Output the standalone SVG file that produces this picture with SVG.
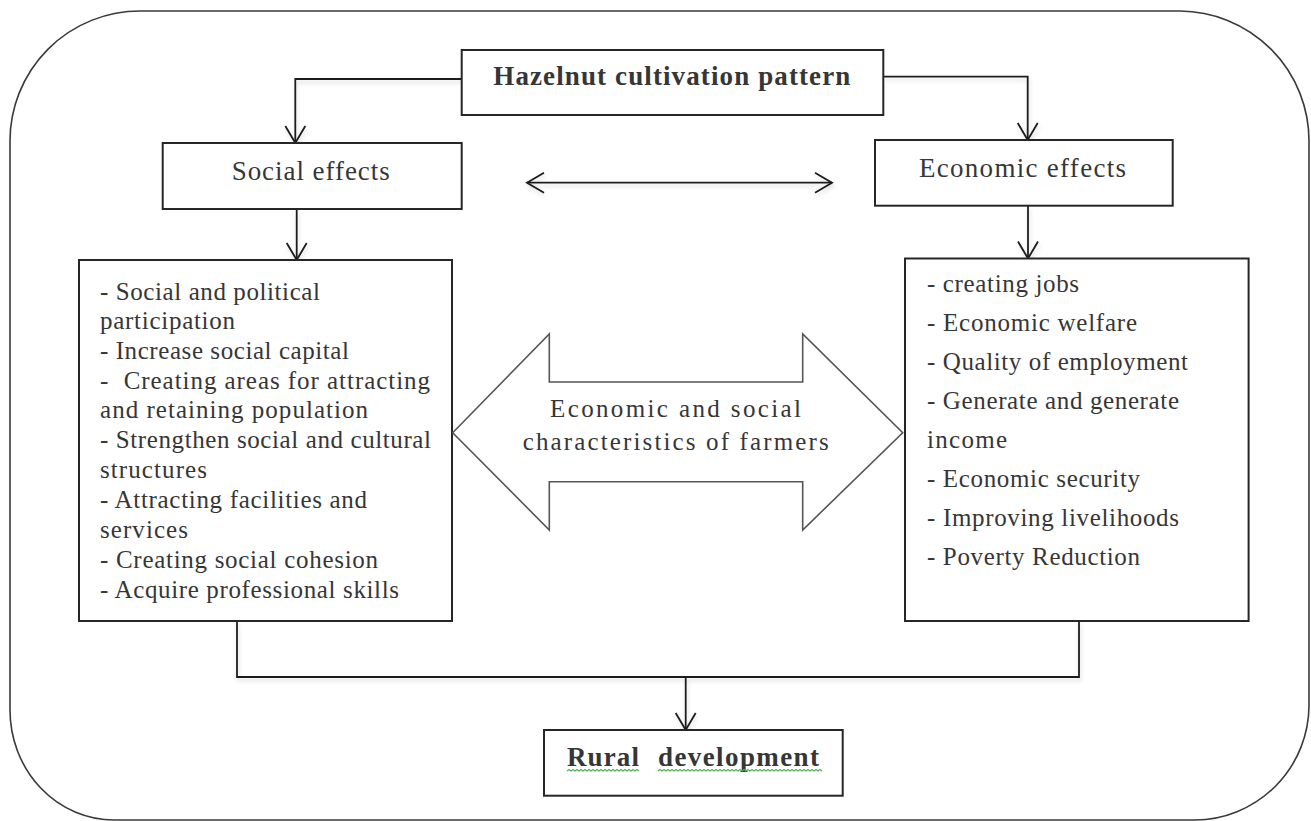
<svg xmlns="http://www.w3.org/2000/svg" width="1311" height="821" viewBox="0 0 1311 821">
  <style>
    .box { fill: #ffffff; stroke: #262626; stroke-width: 2; }
    .frame { fill: none; stroke: #3a3a3a; stroke-width: 1.6; }
    .conn { fill: none; stroke: #1e1e1e; stroke-width: 1.8; }
    .t { font-family: "Liberation Serif", "Times New Roman", serif; fill: #363636; }
    .h { font-size: 27px; }
    .hb { font-size: 27px; font-weight: bold; }
    .li { font-size: 25px; }
    .big { fill: #ffffff; stroke: #555555; stroke-width: 1.6; }
    .squig { fill: none; stroke: #4caf50; stroke-width: 1.1; }
  </style>
  <defs>
    <marker id="vhead" viewBox="-20 -12 22 24" refX="0" refY="0" markerWidth="22" markerHeight="24" markerUnits="userSpaceOnUse" orient="auto-start-reverse">
      <path d="M-17,-10 L0,0 L-17,10" fill="none" stroke="#1e1e1e" stroke-width="1.8"/>
    </marker>
    <filter id="soft" x="-5%" y="-20%" width="110%" height="160%">
      <feDropShadow dx="1" dy="3" stdDeviation="2" flood-color="#000000" flood-opacity="0.15"/>
    </filter>
  </defs>

  <rect x="0" y="0" width="1311" height="821" fill="#ffffff"/>

  <!-- outer rounded frame -->
  <path class="frame" d="M140,11 H1180 A130,130 0 0 1 1309,141 V705 A115,115 0 0 1 1195,820 H114 A104,110 0 0 1 10,710 V141 A130,130 0 0 1 140,11 Z"/>

  <!-- connectors -->
  <g id="connectors" filter="url(#soft)">
    <polyline class="conn" points="461.7,79 295.3,79 295.3,143" marker-end="url(#vhead)"/>
    <polyline class="conn" points="883.3,76.7 1027.7,76.7 1027.7,140" marker-end="url(#vhead)"/>
    <line class="conn" x1="296.7" y1="209" x2="296.7" y2="260" marker-end="url(#vhead)"/>
    <line class="conn" x1="1028" y1="205.7" x2="1028" y2="258.5" marker-end="url(#vhead)"/>
    <line class="conn" x1="527" y1="182.7" x2="832" y2="182.7" marker-start="url(#vhead)" marker-end="url(#vhead)"/>
    <polyline class="conn" points="237,621 237,677 1079,677 1079,621"/>
    <line class="conn" x1="685.7" y1="677" x2="685.7" y2="730" marker-end="url(#vhead)"/>
  </g>

  <!-- title -->
  <g id="node-title">
    <rect class="box" x="461.7" y="50" width="421.6" height="65"/>
    <text class="t hb" x="493.3" y="85" textLength="357" lengthAdjust="spacing">Hazelnut cultivation pattern</text>
  </g>

  <g id="node-social">
    <rect class="box" x="162.7" y="143" width="299" height="66"/>
    <text class="t h" x="231.7" y="180" textLength="158" lengthAdjust="spacing">Social effects</text>
  </g>

  <g id="node-economic">
    <rect class="box" x="875" y="140" width="297.7" height="65.7"/>
    <text class="t h" x="919" y="176.7" textLength="207" lengthAdjust="spacing">Economic effects</text>
  </g>

  <g id="node-social-list">
    <rect class="box" x="79" y="260" width="373" height="361"/>
    <text class="t li" x="100" y="300" textLength="220" lengthAdjust="spacing">- Social and political</text>
    <text class="t li" x="100" y="329" textLength="135" lengthAdjust="spacing">participation</text>
    <text class="t li" x="100" y="358.5" textLength="249" lengthAdjust="spacing">- Increase social capital</text>
    <text class="t li" x="100" y="388.5" textLength="330" lengthAdjust="spacing" xml:space="preserve">-  Creating areas for attracting</text>
    <text class="t li" x="100" y="418.3" textLength="268" lengthAdjust="spacing">and retaining population</text>
    <text class="t li" x="100" y="448.3" textLength="331" lengthAdjust="spacing">- Strengthen social and cultural</text>
    <text class="t li" x="100" y="478" textLength="107" lengthAdjust="spacing">structures</text>
    <text class="t li" x="100" y="508.3" textLength="267" lengthAdjust="spacing">- Attracting facilities and</text>
    <text class="t li" x="100" y="538.3" textLength="88" lengthAdjust="spacing">services</text>
    <text class="t li" x="100" y="568.3" textLength="278" lengthAdjust="spacing">- Creating social cohesion</text>
    <text class="t li" x="100" y="598.3" textLength="299" lengthAdjust="spacing">- Acquire professional skills</text>
  </g>

  <g id="node-economic-list">
    <rect class="box" x="905" y="258.5" width="343.6" height="362.5"/>
    <text class="t li" x="927" y="292" textLength="152" lengthAdjust="spacing">- creating jobs</text>
    <text class="t li" x="927" y="331" textLength="210" lengthAdjust="spacing">- Economic welfare</text>
    <text class="t li" x="927" y="370" textLength="261" lengthAdjust="spacing">- Quality of employment</text>
    <text class="t li" x="927" y="408.5" textLength="252" lengthAdjust="spacing">- Generate and generate</text>
    <text class="t li" x="927" y="447.5" textLength="80" lengthAdjust="spacing">income</text>
    <text class="t li" x="927" y="486.7" textLength="213" lengthAdjust="spacing">- Economic security</text>
    <text class="t li" x="927" y="526" textLength="252" lengthAdjust="spacing">- Improving livelihoods</text>
    <text class="t li" x="927" y="565" textLength="213" lengthAdjust="spacing">- Poverty Reduction</text>
  </g>

  <g id="node-characteristics">
    <polygon class="big" points="452.7,432.7 549.3,334 549.3,382 802.7,382 802.7,334 902.7,432.7 802.7,530 802.7,481.7 549.3,481.7 549.3,530"/>
    <text class="t li" x="550" y="416.7" textLength="251" lengthAdjust="spacing">Economic and social</text>
    <text class="t li" x="522.7" y="450" textLength="306" lengthAdjust="spacing">characteristics of farmers</text>
  </g>

  <g id="node-rural">
    <rect class="box" x="544" y="730" width="298.7" height="65.7"/>
    <text class="t" style="font-size:27px;font-weight:bold" y="765.7"><tspan x="567" textLength="72" lengthAdjust="spacing">Rural</tspan><tspan x="658" textLength="161" lengthAdjust="spacing">development</tspan></text>
    <path class="squig" d="M567,771 l2,-1.5 l2,1.5 l2,-1.5 l2,1.5 l2,-1.5 l2,1.5 l2,-1.5 l2,1.5 l2,-1.5 l2,1.5 l2,-1.5 l2,1.5 l2,-1.5 l2,1.5 l2,-1.5 l2,1.5 l2,-1.5 l2,1.5 l2,-1.5 l2,1.5 l2,-1.5 l2,1.5 l2,-1.5 l2,1.5 l2,-1.5 l2,1.5 l2,-1.5 l2,1.5 l2,-1.5 l2,1.5 l2,-1.5 l2,1.5 l2,-1.5 l2,1.5 l2,-1.5 l2,1.5"/>
    <path class="squig" d="M658,771 l2,-1.5 l2,1.5 l2,-1.5 l2,1.5 l2,-1.5 l2,1.5 l2,-1.5 l2,1.5 l2,-1.5 l2,1.5 l2,-1.5 l2,1.5 l2,-1.5 l2,1.5 l2,-1.5 l2,1.5 l2,-1.5 l2,1.5 l2,-1.5 l2,1.5 l2,-1.5 l2,1.5 l2,-1.5 l2,1.5 l2,-1.5 l2,1.5 l2,-1.5 l2,1.5 l2,-1.5 l2,1.5 l2,-1.5 l2,1.5 l2,-1.5 l2,1.5 l2,-1.5 l2,1.5 l2,-1.5 l2,1.5 l2,-1.5 l2,1.5 l2,-1.5 l2,1.5 l2,-1.5 l2,1.5 l2,-1.5 l2,1.5 l2,-1.5 l2,1.5 l2,-1.5 l2,1.5 l2,-1.5 l2,1.5 l2,-1.5 l2,1.5 l2,-1.5 l2,1.5 l2,-1.5 l2,1.5 l2,-1.5 l2,1.5 l2,-1.5 l2,1.5 l2,-1.5 l2,1.5 l2,-1.5 l2,1.5 l2,-1.5 l2,1.5 l2,-1.5 l2,1.5 l2,-1.5 l2,1.5 l2,-1.5 l2,1.5 l2,-1.5 l2,1.5 l2,-1.5 l2,1.5 l2,-1.5 l2,1.5 l2,-1.5 l2,1.5"/>
  </g>
</svg>
